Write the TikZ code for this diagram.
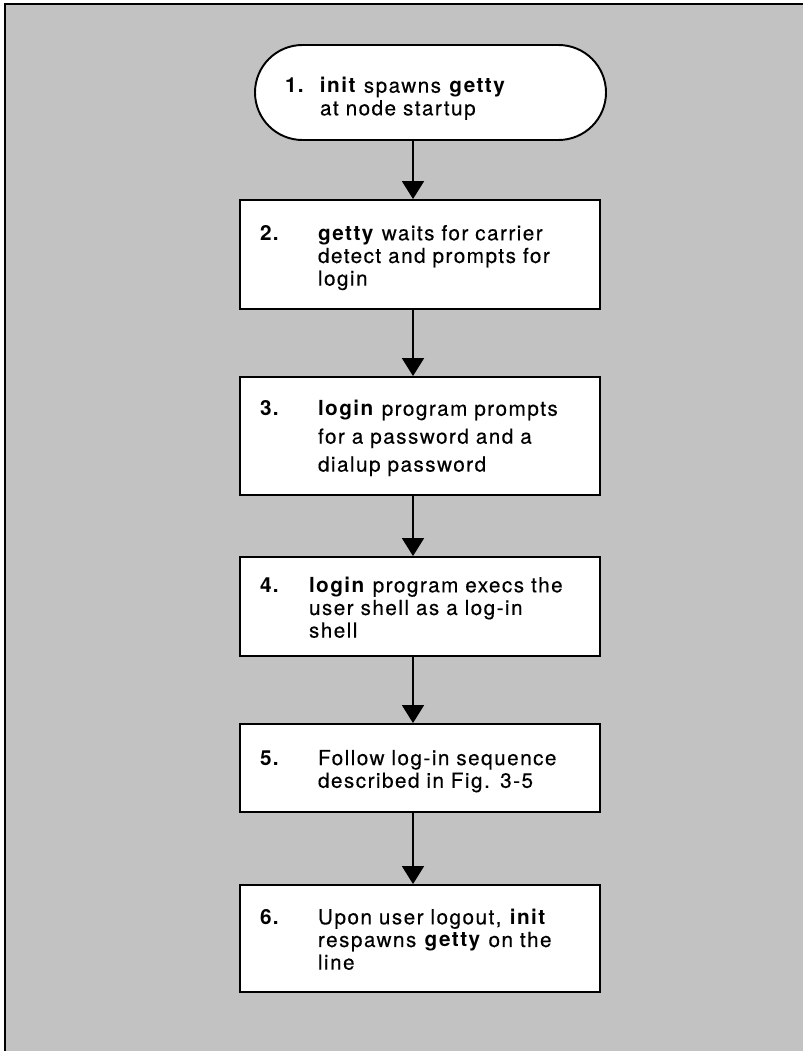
\documentclass[tikz,border=0pt]{standalone}
\usepackage{fontspec}
\setmainfont{TeX Gyre Heros}[LetterSpace=7, UprightFeatures={FakeBold=0.3}]
\usetikzlibrary{arrows.meta}

\newcommand{\stepitem}[3][1.16cm]{\makebox[#1][l]{\rule{0pt}{13.5pt}\bfseries #2}%
  \begin{tabular}[t]{@{}l@{}}#3\end{tabular}}

\begin{document}
\begin{tikzpicture}[stepbox/.style={draw, fill=white, rectangle, text width=6.4cm,
                        inner xsep=.4cm, inner ysep=0pt, align=left},
                    startbox/.style={stepbox, rounded corners=.95cm, text width=5.82cm,
                        inner xsep=.6cm, minimum height=1.9cm},
                    >={Triangle[length=3.6mm,width=4.4mm]}, line width=1.1pt,
                    font=\fontsize{11.8pt}{12.9pt}\selectfont]
		\useasboundingbox (0,0) rectangle (16.06,-21.02);
		\fill[black!24] (0.1,-0.08) rectangle (16.06,-21.02);
		\draw[line width=1.7pt] (0.1,-21.02) -- (0.1,-0.08) -- (16.06,-0.08);
		\coordinate (ax) at (8.26,0);
		\node[startbox] (s1) at (8.61,-1.85)
			{\stepitem[.7cm]{1.}{\rule{0pt}{17pt}\textbf{init} spawns \textbf{getty}\\at node startup}};
		\node[stepbox, minimum height=2.18cm] (s2) at (8.4,-5.09)
			{\stepitem{2.}{\textbf{getty} waits for carrier\\detect and prompts for\\login}};
		\node[stepbox, minimum height=2.36cm, font=\fontsize{11.8pt}{15.9pt}\selectfont] (s3) at (8.4,-8.72)
			{\stepitem{3.}{\textbf{login} program prompts\\for a password and a\\dialup password}};
		\node[stepbox, minimum height=1.98cm] (s4) at (8.4,-12.13)
			{\stepitem[.98cm]{4.}{\textbf{login} program execs the\\user shell as a log-in\\shell}};
		\node[stepbox, minimum height=1.76cm] (s5) at (8.4,-15.36)
			{\stepitem{5.}{Follow log-in sequence\\described in Fig. 3-5}};
		\node[stepbox, minimum height=2.14cm] (s6) at (8.4,-18.77)
			{\stepitem{6.}{Upon user logout, \textbf{init}\\respawns \textbf{getty} on the\\line}};
		\foreach \a/\b in {s1/s2,s2/s3,s3/s4,s4/s5,s5/s6}
			\draw[->] (\a.south -| ax) -- (\b.north -| ax);
	\end{tikzpicture}
\end{document}
